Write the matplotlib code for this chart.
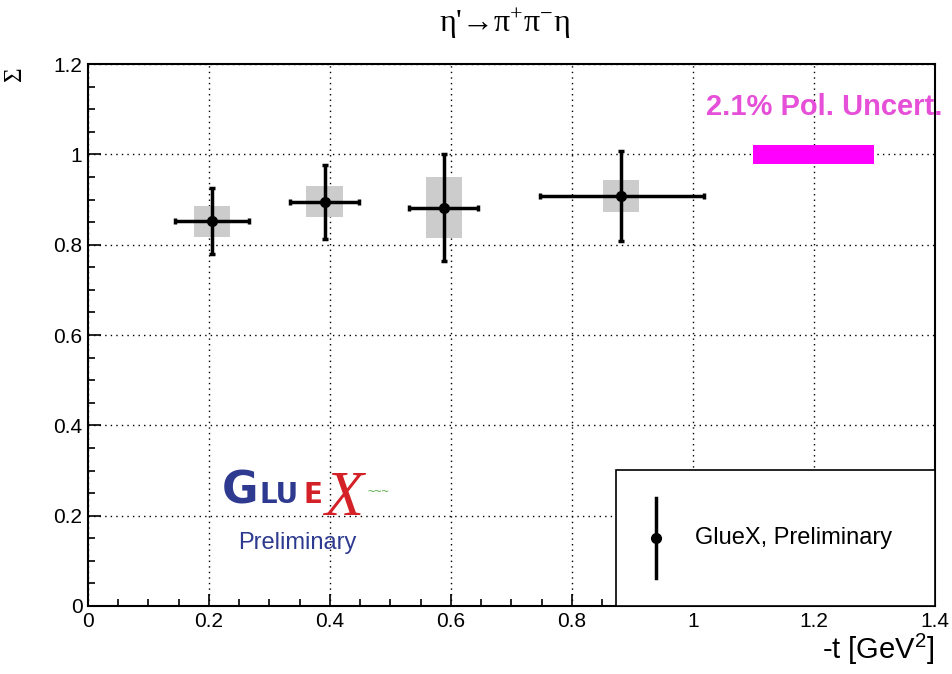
import matplotlib.pyplot as plt
import numpy as np
from matplotlib.patches import Rectangle
from matplotlib.ticker import MultipleLocator, FuncFormatter

plt.rcParams['font.family'] = ['Liberation Sans', 'DejaVu Sans']
plt.rcParams['mathtext.fontset'] = 'stix'
plt.rcParams['mathtext.default'] = 'regular'

# data
t = [0.205, 0.391, 0.588, 0.8815]
t_err_lo = [0.061, 0.057, 0.057, 0.135]
t_err_hi = [0.061, 0.057, 0.057, 0.136]
sigma = [0.852, 0.895, 0.882, 0.908]
stat_err = [0.073, 0.082, 0.118, 0.100]
sys_err = [0.034, 0.034, 0.067, 0.035]
box_half_width = 0.03

pol_x = [1.1, 1.3]
pol_y = 1.0
pol_unc = 0.021

fig = plt.figure(figsize=(9.52, 6.74), dpi=100)
ax = fig.add_axes([0.0924, 0.1009, 0.8897, 0.8041])

# systematic boxes
for x, y, s in zip(t, sigma, sys_err):
    ax.add_patch(Rectangle((x - box_half_width, y - s), 2 * box_half_width, 2 * s,
                           facecolor='#cccccc', edgecolor='none', zorder=2))

ax.errorbar(t, sigma, xerr=[t_err_lo, t_err_hi], yerr=stat_err, fmt='o', color='black',
            markersize=7, elinewidth=2.5, capsize=2, capthick=2.5, zorder=4)

# polarization uncertainty band
ax.add_patch(Rectangle((pol_x[0], pol_y - pol_unc), pol_x[1] - pol_x[0], 2 * pol_unc,
                       facecolor='#ff00ff', edgecolor='none', zorder=3))
ax.text(0.869, 0.9207, '2.1% Pol. Uncert.', transform=ax.transAxes, ha='center', va='center',
        fontsize=21, fontweight='bold', color='#e650d8', clip_on=False, zorder=5)

ax.set_xlim(0, 1.4)
ax.set_ylim(0, 1.2)
ax.xaxis.set_major_locator(MultipleLocator(0.2))
ax.xaxis.set_minor_locator(MultipleLocator(0.05))
ax.yaxis.set_major_locator(MultipleLocator(0.2))
ax.yaxis.set_minor_locator(MultipleLocator(0.05))
fmt = FuncFormatter(lambda v, p: ('%g' % round(v, 2)))
ax.xaxis.set_major_formatter(fmt)
ax.yaxis.set_major_formatter(fmt)
ax.tick_params(which='major', direction='in', length=9, width=1.2, labelsize=15, pad=4)
ax.tick_params(which='minor', direction='in', length=5, width=1.2)
ax.tick_params(top=False, right=False, which='both')
ax.grid(True, which='major', color='black', linestyle=(0, (1, 3)), linewidth=1.0)
ax.set_axisbelow(True)
for sp in ax.spines.values():
    sp.set_linewidth(1.5)

# legend box
ax.add_patch(Rectangle((0.6234, 0), 0.3766, 0.251, transform=ax.transAxes,
                       facecolor='white', edgecolor='black', linewidth=1.2, zorder=6))
ax.plot([0.6706, 0.6706], [0.0517, 0.199], transform=ax.transAxes, color='black',
        linewidth=2.5, zorder=7)
ax.plot([0.6706], [0.1255], 'o', transform=ax.transAxes, color='black', markersize=7, zorder=7)
ax.text(0.7166, 0.1255, 'GlueX, Preliminary', transform=ax.transAxes, va='center',
        fontsize=17, zorder=7)

# GlueX logo
blue = '#2e3a8f'
red = '#d42027'
ax.text(0.158, 0.19, 'G', transform=ax.transAxes, fontsize=32, fontweight='bold',
        color=blue, family='DejaVu Sans', zorder=5)
ax.text(0.203, 0.19, 'LU', transform=ax.transAxes, fontsize=20, fontweight='bold',
        color=blue, family='DejaVu Sans', zorder=5)
ax.text(0.254, 0.19, 'E', transform=ax.transAxes, fontsize=20, fontweight='bold',
        color=red, family='DejaVu Sans', zorder=5)
ax.text(0.279, 0.168, 'X', transform=ax.transAxes, fontsize=46, style='italic',
        color=red, family='Liberation Serif', zorder=5)
ax.text(0.33, 0.205, '~~~', transform=ax.transAxes, fontsize=9, color='#5aaa4a', zorder=5)
ax.text(0.177, 0.105, 'Preliminary', transform=ax.transAxes, fontsize=17,
        color=blue, family='Liberation Sans', zorder=5)

fig.text(0.53, 0.965, "η'→π$^{+}$π$^{-}$η", ha='center', va='center',
         fontsize=23, family='Liberation Serif')
fig.text(0.982, 0.036, r'-t [GeV$^{2}$]', ha='right', va='center', fontsize=21)
fig.text(0.016, 0.89, 'Σ', rotation=90, ha='center', va='center', fontsize=18,
         family='Liberation Serif')

plt.savefig('out.png', dpi=100)
